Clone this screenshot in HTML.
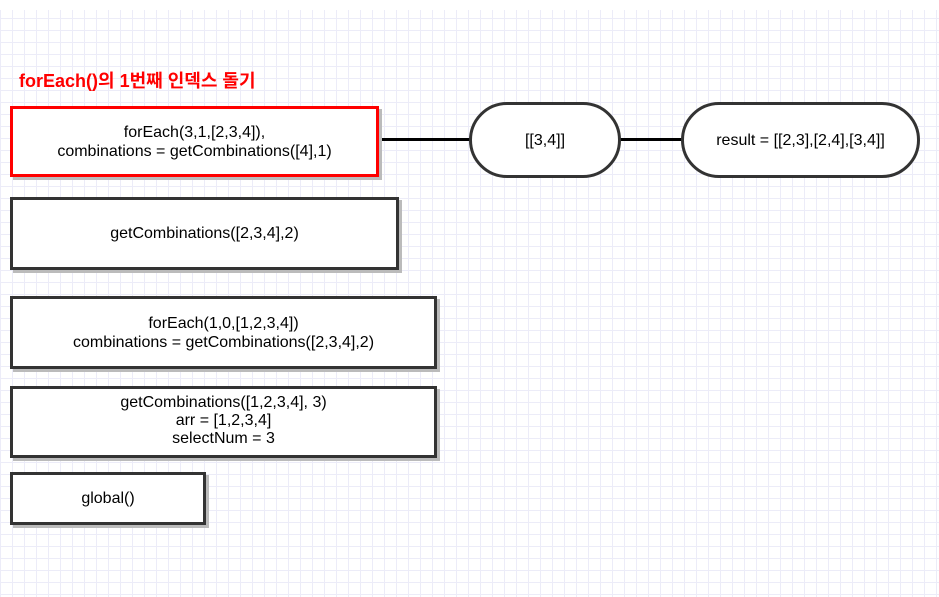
<!DOCTYPE html>
<html><head><meta charset="utf-8"><style>
body{margin:0;width:939px;height:597px;overflow:hidden;font-family:"Liberation Sans","Noto Sans CJK KR",sans-serif;
background-color:#fff;
background-image:linear-gradient(#ececf8 1px,transparent 1px),linear-gradient(90deg,#ececf8 1px,transparent 1px);
background-size:12px 12px;background-position:0 6px;position:relative}
.b{position:absolute;box-sizing:border-box;background:#fff;border:3px solid #333;display:flex;align-items:center;justify-content:center;text-align:center;font-size:16px;line-height:19px;color:#000;box-shadow:3px 3px 0 #bbb}
.p{border-radius:38px;box-shadow:none}
.l{position:absolute;height:3px;background:#000;top:138px}
</style></head><body>
<div style="position:absolute;left:0;top:0;width:939px;height:10px;background:#fff"></div>
<div style="position:absolute;left:19px;top:67px;color:#f00;font-weight:bold;font-size:18px;">forEach()의 1번째 인덱스 돌기</div>
<div class="l" style="left:378px;width:92px"></div>
<div class="l" style="left:619px;width:63px"></div>
<div class="b" style="left:10px;top:106px;width:369px;height:71px;border-color:#f00">forEach(3,1,[2,3,4]),<br>combinations = getCombinations([4],1)</div>
<div class="b" style="left:10px;top:197px;width:389px;height:73px">getCombinations([2,3,4],2)</div>
<div class="b" style="left:10px;top:296px;width:427px;height:73px">forEach(1,0,[1,2,3,4])<br>combinations = getCombinations([2,3,4],2)</div>
<div class="b" style="left:10px;top:386px;width:427px;height:72px;line-height:18px;align-items:flex-start;padding-top:5px">getCombinations([1,2,3,4], 3)<br>arr = [1,2,3,4]<br>selectNum = 3</div>
<div class="b" style="left:10px;top:472px;width:196px;height:53px">global()</div>
<div class="b p" style="left:469px;top:102px;width:152px;height:76px">[[3,4]]</div>
<div class="b p" style="left:681px;top:102px;width:239px;height:76px">result = [[2,3],[2,4],[3,4]]</div>
</body></html>
